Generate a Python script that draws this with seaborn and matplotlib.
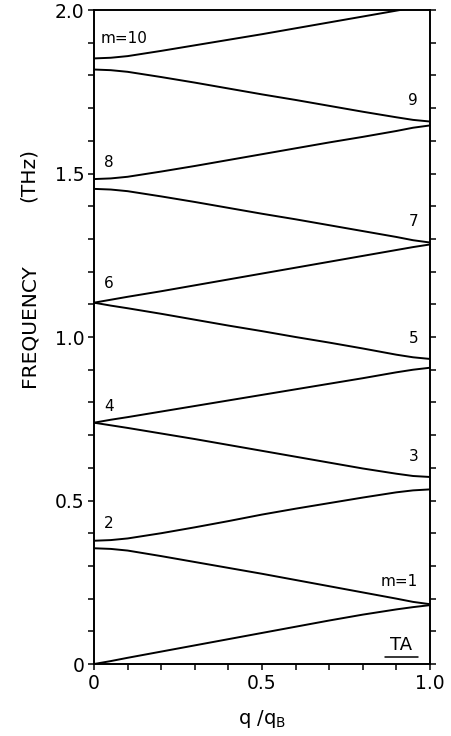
import numpy as np
import pandas as pd
import matplotlib
matplotlib.use("Agg")
import matplotlib.pyplot as plt
import seaborn as sns

# reduced wavevector q/qB
q = [0, 0.05, 0.1, 0.2, 0.3, 0.4, 0.5, 0.6, 0.7, 0.8, 0.9, 0.95, 1.0]

# folded TA branches, frequency in THz
b0 = [0.000, 0.009, 0.019, 0.038, 0.057, 0.076, 0.095, 0.114, 0.133, 0.151, 0.167, 0.174, 0.180]
b1 = [0.354, 0.352, 0.347, 0.330, 0.312, 0.294, 0.276, 0.257, 0.238, 0.219, 0.200, 0.190, 0.183]
b2 = [0.377, 0.379, 0.384, 0.400, 0.418, 0.437, 0.457, 0.475, 0.492, 0.509, 0.525, 0.531, 0.534]
b3 = [0.738, 0.730, 0.722, 0.705, 0.688, 0.670, 0.652, 0.634, 0.616, 0.598, 0.582, 0.575, 0.572]
b4 = [0.738, 0.747, 0.755, 0.772, 0.789, 0.806, 0.823, 0.840, 0.857, 0.874, 0.892, 0.900, 0.906]
b5 = [1.105, 1.096, 1.088, 1.071, 1.053, 1.035, 1.018, 1.000, 0.983, 0.965, 0.946, 0.938, 0.933]
b6 = [1.105, 1.114, 1.123, 1.140, 1.158, 1.176, 1.194, 1.212, 1.230, 1.248, 1.266, 1.275, 1.283]
b7 = [1.453, 1.451, 1.446, 1.430, 1.413, 1.395, 1.377, 1.360, 1.342, 1.324, 1.306, 1.296, 1.289]
b8 = [1.483, 1.485, 1.490, 1.506, 1.523, 1.541, 1.559, 1.577, 1.595, 1.612, 1.630, 1.640, 1.647]
b9 = [1.818, 1.816, 1.811, 1.795, 1.778, 1.760, 1.742, 1.725, 1.707, 1.689, 1.672, 1.664, 1.659]
b10 = [1.852, 1.854, 1.859, 1.875, 1.892, 1.909, 1.926, 1.944, 1.962, 1.980, 1.998, 2.007, 2.016]

branches = [b0, b1, b2, b3, b4, b5, b6, b7, b8, b9, b10]

# branch labels: (text, q, freq)
label_text = ["m=10", "8", "6", "4", "2", "9", "7", "5", "3", "m=1"]
label_q = [0.02, 0.03, 0.03, 0.03, 0.03, 0.965, 0.965, 0.965, 0.965, 0.965]
label_f = [1.912, 1.535, 1.164, 0.787, 0.430, 1.724, 1.353, 0.996, 0.634, 0.252]

rows = []
for i, b in enumerate(branches):
    for qq, ff in zip(q, b):
        rows.append({"branch": i, "q": qq, "f": ff})
df = pd.DataFrame(rows)

sns.set_style("ticks")
plt.rcParams['font.family'] = ['DejaVu Sans']
plt.rcParams['text.color'] = 'black'
plt.rcParams['axes.labelcolor'] = 'black'
plt.rcParams['xtick.color'] = 'black'
plt.rcParams['ytick.color'] = 'black'

fig = plt.figure(figsize=(4.52, 7.36), dpi=100)
ax = fig.add_axes([0.208, 0.0978, 0.743, 0.8886])

sns.lineplot(data=df, x="q", y="f", units="branch", estimator=None,
             color="black", linewidth=1.4, ax=ax, legend=False)

ax.set_xlim(0, 1.0)
ax.set_ylim(0, 2.0)
ax.set_xticks([0, 0.5, 1.0])
ax.set_xticklabels(["0", "0.5", "1.0"])
ax.set_yticks([0, 0.5, 1.0, 1.5, 2.0])
ax.set_yticklabels(["0", "0.5", "1.0", "1.5", "2.0"])
ax.set_xticks(np.arange(0, 1.01, 0.1), minor=True)
ax.set_yticks(np.arange(0, 2.01, 0.1), minor=True)
ax.tick_params(which="both", direction="out", length=4, width=1.1,
               left=True, right=True, bottom=True, top=False, labelsize=13.5,
               pad=3)
for s in ax.spines.values():
    s.set_linewidth(1.4)
    s.set_color("black")

ax.set_xlabel("q /q$_\\mathrm{B}$", fontsize=14)
ax.xaxis.set_label_coords(0.5, -0.068)
ax.set_ylabel("FREQUENCY", fontsize=14.5, va="center")
ax.yaxis.set_label_coords(-0.195, 0.518)
ax.text(-0.195, 0.748, "(THz)", transform=ax.transAxes, rotation=90,
        ha="center", va="center", fontsize=14.5)

for t, xq, yf in zip(label_text, label_q, label_f):
    ha = "left" if xq < 0.5 else "right"
    ax.text(xq, yf, t, ha=ha, va="center", fontsize=11)

ax.text(0.915, 0.058, "TA", ha="center", va="center", fontsize=13)
ax.plot([0.866, 0.964], [0.022, 0.022], color="black", linewidth=1.1)

fig.savefig("out.png", dpi=100)
